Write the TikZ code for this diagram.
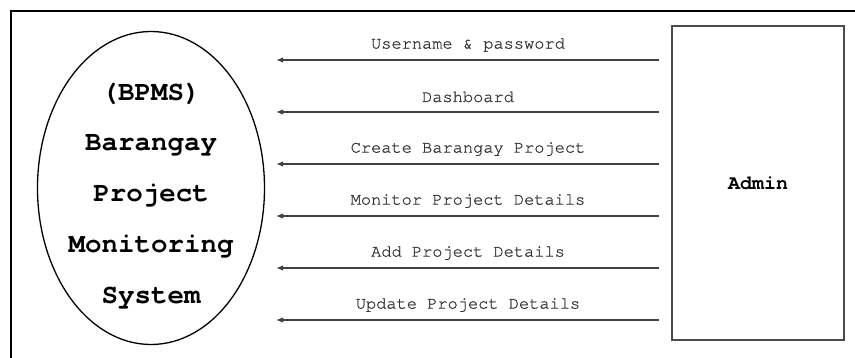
\documentclass[tikz,border=0pt]{standalone}
\usepackage{fontspec}
\setmonofont{TeX Gyre Cursor}
\newfontfamily\flowfont{TeX Gyre Cursor}[FakeBold=0.8]
\usetikzlibrary{arrows.meta,shapes.geometric}
\begin{document}
\begin{tikzpicture}[x=1pt,y=-1pt,
  flow/.style={draw=black!75,line width=1.4pt,-{Latex[length=7pt,width=5.5pt]}},
  flowlabel/.style={font=\flowfont\fontsize{17}{19}\selectfont,text=black!80,inner sep=0pt},
  systext/.style={font=\ttfamily\bfseries\fontsize{27.5}{29}\selectfont,inner sep=0pt},
  frameline/.style={draw=black,line width=1.5pt}]
\useasboundingbox (0,0) rectangle (855,358);
% outer frame (top and left edges)
\draw[frameline] (11,358) -- (11,11) -- (855,11);
% system process
\node[draw=black,line width=1.3pt,ellipse,minimum width=227,minimum height=313,inner sep=0pt] (sys) at (151,188) {};
\node[systext] (t1) at (151,94) {(BPMS)};
\node[systext] (t2) at (151,145) {Barangay};
\node[systext] (t3) at (151,196) {Project};
\node[systext] (t4) at (151,247) {Monitoring};
\node[systext] (t5) at (151,298) {System};
% external entity
\node[draw=black!70,line width=1.2pt,minimum width=172,minimum height=314,inner sep=0pt] (admin) at (758,183) {};
\node[font=\ttfamily\bfseries\fontsize{20}{22}\selectfont,inner sep=0pt] (adm) at (758,183) {Admin};
% flows from Admin to the system
\foreach \i/\yy/\txt in {1/60/{Username \& password},2/112/{Dashboard},3/164/{Create Barangay Project},4/216/{Monitor Project Details},5/268/{Add Project Details},6/320/{Update Project Details}}{
  \coordinate (s\i) at (659,\yy);
  \coordinate (e\i) at (276,\yy);
  \draw[flow] (s\i) -- (e\i);
  \node[flowlabel] (l\i) at (468,\yy-15) {\txt};
}
\end{tikzpicture}
\end{document}
